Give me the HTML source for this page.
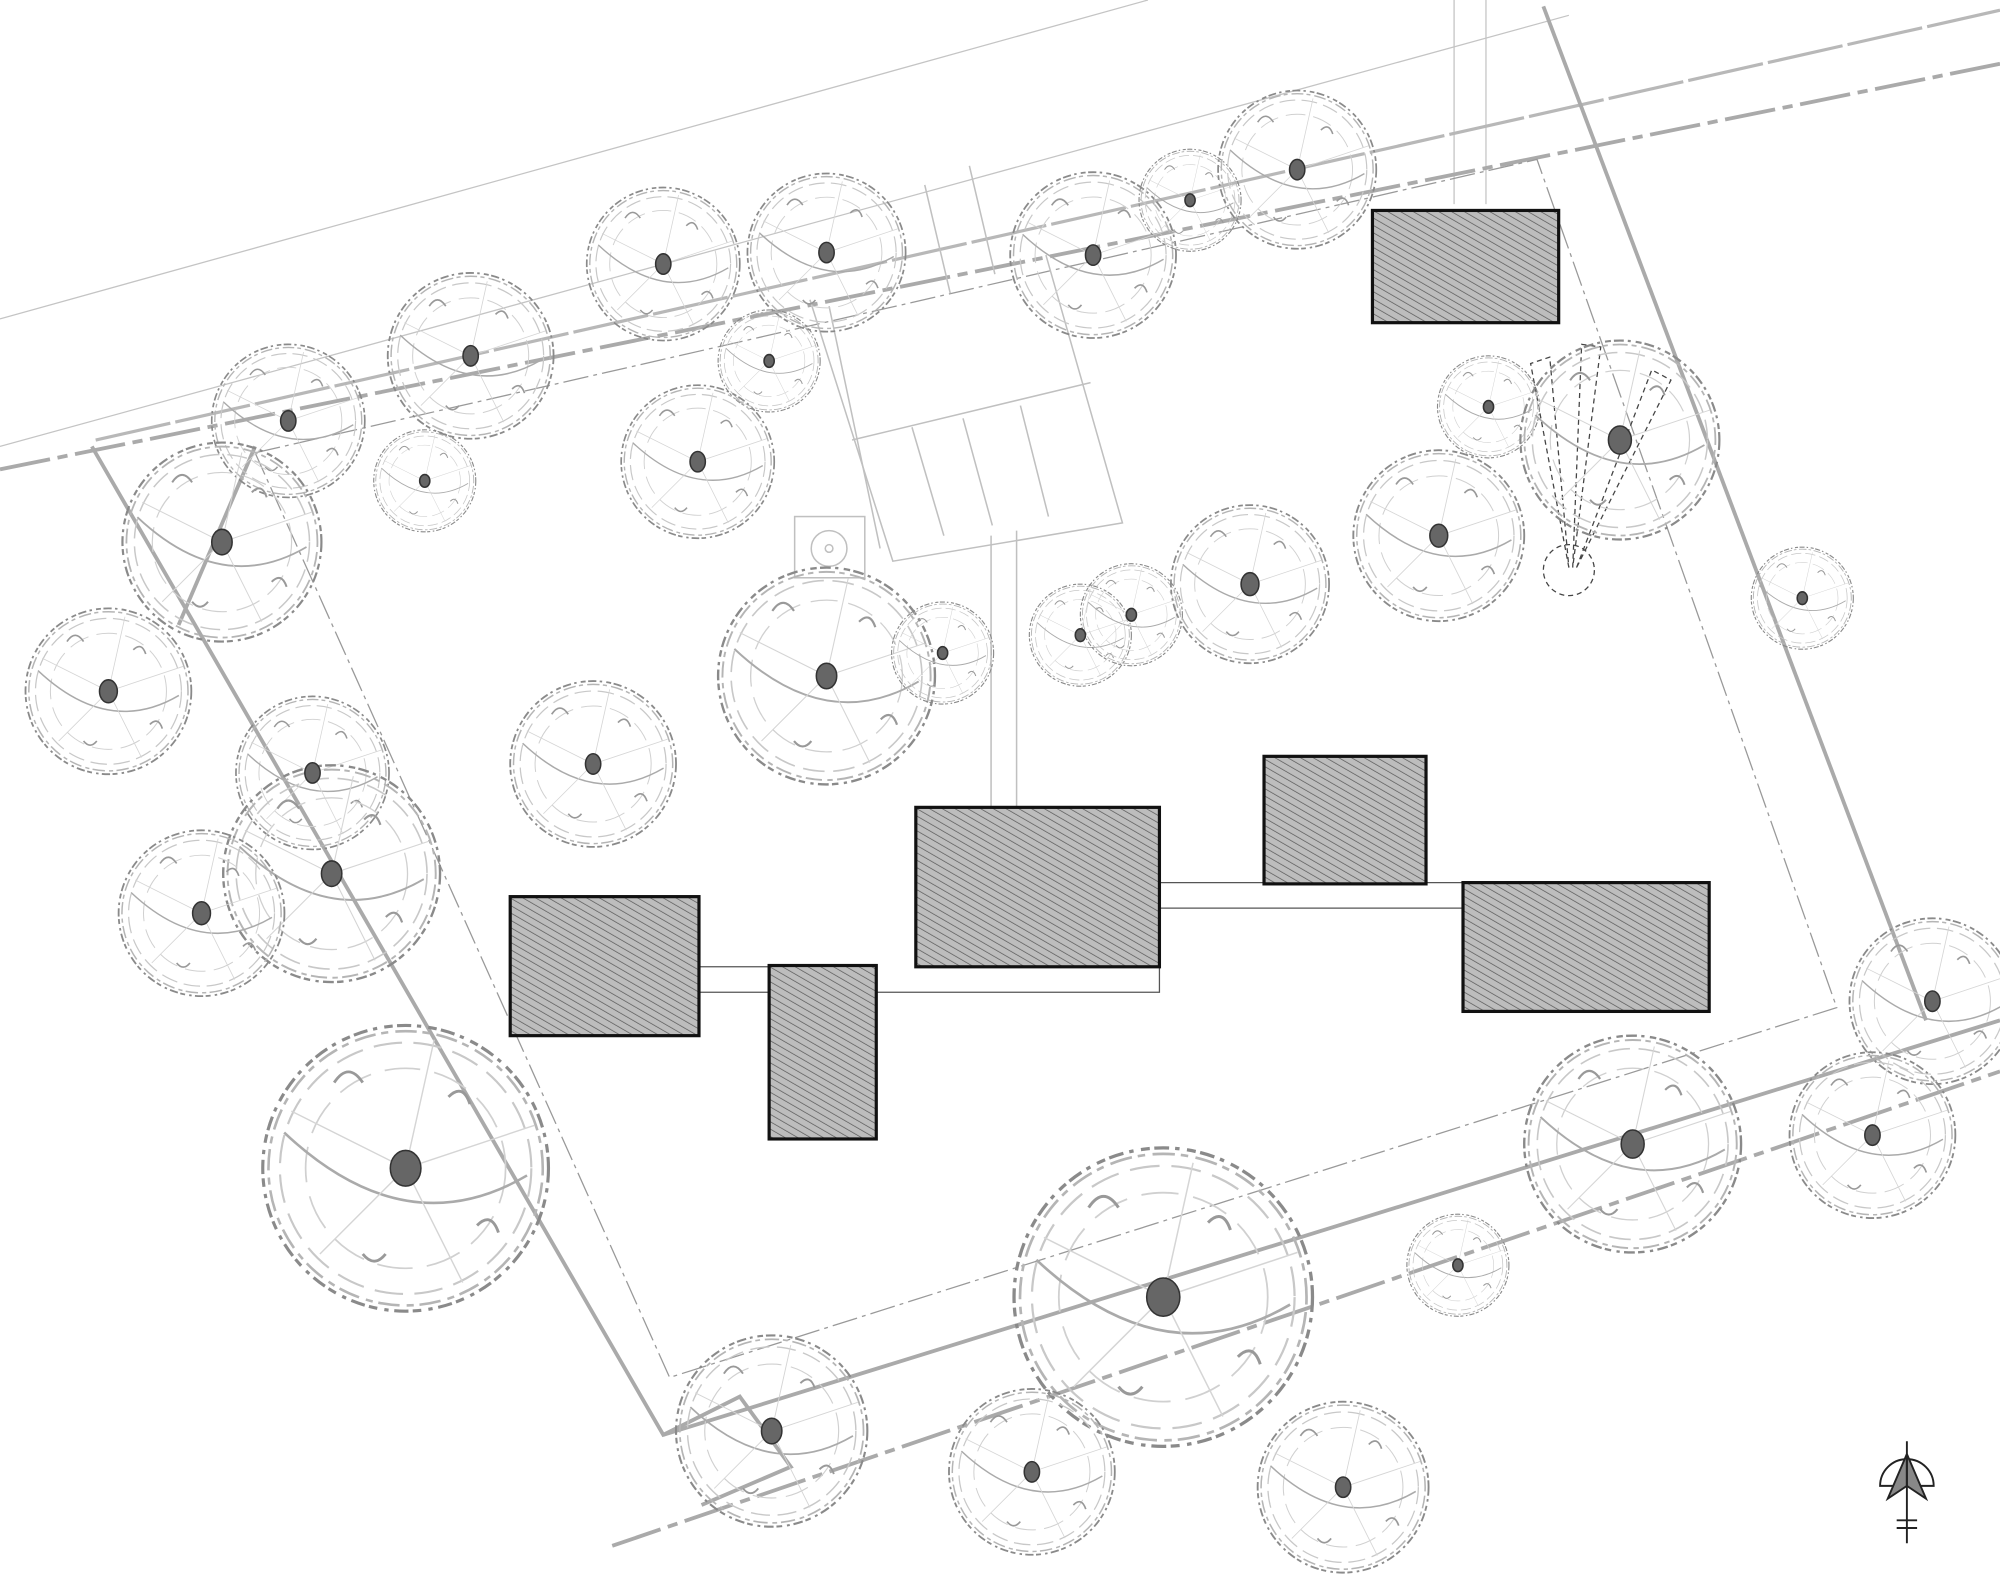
<!DOCTYPE html>
<html><head><meta charset="utf-8"><style>
html,body{margin:0;padding:0;background:#fff;width:2000px;height:1579px;overflow:hidden}
svg{display:block}
</style></head><body>
<svg width="2000" height="1579" viewBox="0 0 1568 1238" preserveAspectRatio="none" xmlns="http://www.w3.org/2000/svg">
<defs>
<pattern id="h" width="5" height="5" patternUnits="userSpaceOnUse" patternTransform="rotate(-60)">
<rect width="5" height="5" fill="#bdbdbd"/><line x1="0" y1="0" x2="0" y2="5" stroke="#555" stroke-width="1.1"/>
</pattern>
<g id="t">
<circle r="1" fill="none" stroke="#8a8a8a" stroke-width="0.022" stroke-dasharray="0.1 0.04 0.03 0.05 0.06 0.03"/>
<circle r="0.96" fill="none" stroke="#b5b5b5" stroke-width="0.018" stroke-dasharray="0.05 0.05 0.15 0.04"/>
<circle r="0.88" fill="none" stroke="#c8c8c8" stroke-width="0.015" stroke-dasharray="0.2 0.08"/>
<circle r="0.7" fill="none" stroke="#d0d0d0" stroke-width="0.012" stroke-dasharray="0.25 0.1"/>
<path d="M-0.85,-0.25 Q0,0.55 0.85,0.05" fill="none" stroke="#aaa" stroke-width="0.018"/>
<path d="M-0.5,-0.6 q0.1,-0.15 0.2,0 M0.3,-0.5 q0.1,-0.1 0.15,0.05 M-0.3,0.6 q0.08,0.1 0.16,0 M0.5,0.4 q0.1,-0.1 0.15,0.05" fill="none" stroke="#999" stroke-width="0.02"/>
<path d="M0,0 L0.9,-0.3 M0,0 L-0.6,0.6 M0,0 L0.4,0.8 M0,0 L-0.8,-0.4 M0,0 L0.2,-0.9" stroke="#d5d5d5" stroke-width="0.01"/>
</g>
</defs>
<rect width="1568" height="1238" fill="#fff"/>
<!-- roads -->
<g fill="none" stroke="#c4c4c4" stroke-width="1">
<line x1="0" y1="250" x2="900" y2="0"/>
<line x1="0" y1="350" x2="1230" y2="12"/>
<line x1="1140" y1="0" x2="1140" y2="160"/><line x1="1165" y1="0" x2="1165" y2="160"/>
</g>
<g fill="none" stroke="#aaa" stroke-width="3" stroke-dasharray="40 6 8 6">
<line x1="0" y1="368" x2="1568" y2="50"/>
<line x1="480" y1="1212" x2="1568" y2="840"/>
</g>
<line x1="75" y1="345" x2="1568" y2="8" stroke="#b8b8b8" stroke-width="2.5" stroke-dasharray="60 4"/>
<!-- property -->
<g fill="none" stroke="#aaa" stroke-width="3">
<polyline points="72,350 520,1125 1568,800"/>
<line x1="1210" y1="5" x2="1510" y2="800"/>
<polyline points="520,1125 580,1095 620,1150 550,1180"/>
<polyline points="140,490 200,350"/>
</g>
<g fill="none" stroke="#999" stroke-width="1" stroke-dasharray="20 4 3 4">
<polyline points="200,355 1205,125 1440,790 525,1080 200,355"/>
</g>
<!-- parking -->
<g fill="none" stroke="#c0c0c0" stroke-width="1.2">
<polyline points="635,235 700,440 880,410 820,200"/>
<polyline points="650,240 690,430"/>
<line x1="668" y1="345" x2="855" y2="300"/>
<line x1="715" y1="335" x2="740" y2="420"/><line x1="755" y1="328" x2="778" y2="412"/><line x1="800" y1="318" x2="822" y2="405"/>
<line x1="725" y1="145" x2="745" y2="230"/><line x1="760" y1="130" x2="780" y2="215"/>
<line x1="777" y1="420" x2="777" y2="633"/><line x1="797" y1="416" x2="797" y2="633"/>
<rect x="623" y="405" width="55" height="48"/><circle cx="650" cy="430" r="14"/><circle cx="650" cy="430" r="3"/>
</g>
<!-- fan -->
<g fill="none" stroke="#444" stroke-width="1" stroke-dasharray="4 3">
<polygon points="1230,445 1200,285 1215,280"/>
<polygon points="1233,445 1240,270 1255,272"/>
<polygon points="1236,445 1295,290 1310,298"/>
<circle cx="1230" cy="447" r="20"/>
</g>
<!-- trees -->
<g>
<use href="#t" transform="translate(520,207) scale(60)"/>
<use href="#t" transform="translate(648,198) scale(62)"/>
<use href="#t" transform="translate(857,200) scale(65)"/>
<use href="#t" transform="translate(933,157) scale(40)"/>
<use href="#t" transform="translate(1017,133) scale(62)"/>
<use href="#t" transform="translate(369,279) scale(65)"/>
<use href="#t" transform="translate(226,330) scale(60)"/>
<use href="#t" transform="translate(333,377) scale(40)"/>
<use href="#t" transform="translate(603,283) scale(40)"/>
<use href="#t" transform="translate(547,362) scale(60)"/>
<use href="#t" transform="translate(174,425) scale(78)"/>
<use href="#t" transform="translate(85,542) scale(65)"/>
<use href="#t" transform="translate(245,606) scale(60)"/>
<use href="#t" transform="translate(260,685) scale(85)"/>
<use href="#t" transform="translate(158,716) scale(65)"/>
<use href="#t" transform="translate(318,916) scale(112)"/>
<use href="#t" transform="translate(465,599) scale(65)"/>
<use href="#t" transform="translate(648,530) scale(85)"/>
<use href="#t" transform="translate(739,512) scale(40)"/>
<use href="#t" transform="translate(847,498) scale(40)"/>
<use href="#t" transform="translate(887,482) scale(40)"/>
<use href="#t" transform="translate(980,458) scale(62)"/>
<use href="#t" transform="translate(1128,420) scale(67)"/>
<use href="#t" transform="translate(1167,319) scale(40)"/>
<use href="#t" transform="translate(1270,345) scale(78)"/>
<use href="#t" transform="translate(1413,469) scale(40)"/>
<use href="#t" transform="translate(1515,785) scale(65)"/>
<use href="#t" transform="translate(1468,890) scale(65)"/>
<use href="#t" transform="translate(1280,897) scale(85)"/>
<use href="#t" transform="translate(1143,992) scale(40)"/>
<use href="#t" transform="translate(912,1017) scale(117)"/>
<use href="#t" transform="translate(605,1122) scale(75)"/>
<use href="#t" transform="translate(809,1154) scale(65)"/>
<use href="#t" transform="translate(1053,1166) scale(67)"/>
</g>
<g fill="#666" stroke="#333" stroke-width="1.2">
<ellipse cx="520" cy="207" rx="6" ry="8"/><ellipse cx="648" cy="198" rx="6" ry="8"/><ellipse cx="857" cy="200" rx="6" ry="8"/><ellipse cx="933" cy="157" rx="4" ry="5"/>
<ellipse cx="1017" cy="133" rx="6" ry="8"/><ellipse cx="369" cy="279" rx="6" ry="8"/><ellipse cx="226" cy="330" rx="6" ry="8"/><ellipse cx="333" cy="377" rx="4" ry="5"/>
<ellipse cx="603" cy="283" rx="4" ry="5"/><ellipse cx="547" cy="362" rx="6" ry="8"/><ellipse cx="174" cy="425" rx="8" ry="10"/><ellipse cx="85" cy="542" rx="7" ry="9"/>
<ellipse cx="245" cy="606" rx="6" ry="8"/><ellipse cx="260" cy="685" rx="8" ry="10"/><ellipse cx="158" cy="716" rx="7" ry="9"/><ellipse cx="318" cy="916" rx="12" ry="14"/>
<ellipse cx="465" cy="599" rx="6" ry="8"/><ellipse cx="648" cy="530" rx="8" ry="10"/><ellipse cx="739" cy="512" rx="4" ry="5"/><ellipse cx="847" cy="498" rx="4" ry="5"/>
<ellipse cx="887" cy="482" rx="4" ry="5"/><ellipse cx="980" cy="458" rx="7" ry="9"/><ellipse cx="1128" cy="420" rx="7" ry="9"/><ellipse cx="1167" cy="319" rx="4" ry="5"/>
<ellipse cx="1270" cy="345" rx="9" ry="11"/><ellipse cx="1413" cy="469" rx="4" ry="5"/><ellipse cx="1515" cy="785" rx="6" ry="8"/><ellipse cx="1468" cy="890" rx="6" ry="8"/>
<ellipse cx="1280" cy="897" rx="9" ry="11"/><ellipse cx="1143" cy="992" rx="4" ry="5"/><ellipse cx="912" cy="1017" rx="13" ry="15"/><ellipse cx="605" cy="1122" rx="8" ry="10"/>
<ellipse cx="809" cy="1154" rx="6" ry="8"/><ellipse cx="1053" cy="1166" rx="6" ry="8"/>
</g>
<!-- walkways -->
<g fill="none" stroke="#555" stroke-width="1">
<polyline points="548,758 603,758"/><polyline points="548,778 603,778"/>
<polyline points="687,778 909,778 909,758"/>
<polyline points="909,692 991,692"/><polyline points="909,712 1147,712"/><polyline points="1118,692 1147,692"/>
</g>
<!-- buildings -->
<g fill="url(#h)" stroke="#111" stroke-width="2.5">
<rect x="1076" y="165" width="146" height="88"/>
<rect x="400" y="703" width="148" height="109"/>
<rect x="603" y="757" width="84" height="136"/>
<rect x="718" y="633" width="191" height="125"/>
<rect x="991" y="593" width="127" height="100"/>
<rect x="1147" y="692" width="193" height="101"/>
</g>
<!-- north arrow -->
<g stroke="#222" stroke-width="1.5">
<path d="M1474,1165 A21,21 0 0 1 1516,1165 Z" fill="#fff"/>
<path d="M1495,1140 L1480,1175 L1495,1165 Z" fill="#888"/>
<path d="M1495,1140 L1510,1175 L1495,1165 Z" fill="#888"/>
<line x1="1495" y1="1130" x2="1495" y2="1210"/>
<line x1="1487" y1="1192" x2="1503" y2="1192"/><line x1="1487" y1="1198" x2="1503" y2="1198"/>
</g>
</svg>
</body></html>
